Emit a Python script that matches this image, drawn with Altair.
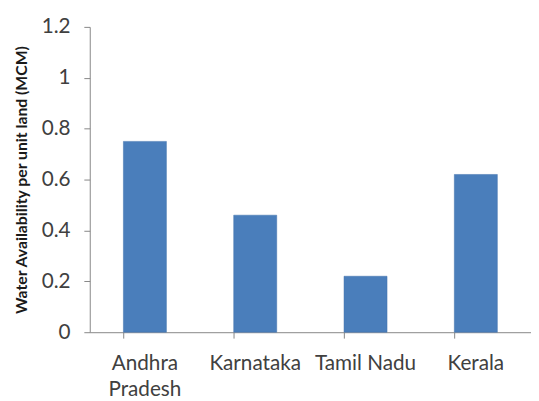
import altair as alt
import pandas as pd

states = ["Andhra Pradesh", "Karnataka", "Tamil Nadu", "Kerala"]
values = [0.75, 0.46, 0.22, 0.62]
y_ticks = [0, 0.2, 0.4, 0.6, 0.8, 1.0, 1.2]

df = pd.DataFrame({"state": states, "value": values})

chart = alt.Chart(df).mark_bar(color="#4A7EBB", stroke="#3F70AC", strokeWidth=0.5).encode(
    x=alt.X("state:N", sort=states, title=None,
            scale=alt.Scale(paddingInner=0.61, paddingOuter=0.305),
            axis=alt.Axis(labelAngle=0, bandPosition=0, ticks=True, tickSize=6,
                          tickColor="#868686", domainColor="#868686",
                          labelFont="Lato", labelFontSize=21, labelColor="#404040",
                          labelPadding=15, labelLineHeight=26,
                          labelExpr="datum.label == 'Andhra Pradesh' ? ['Andhra', 'Pradesh'] : datum.label")),
    y=alt.Y("value:Q", title="Water Availability per unit land (MCM)",
            scale=alt.Scale(domain=[0, 1.2]),
            axis=alt.Axis(values=y_ticks, grid=False, tickSize=6, tickColor="#868686",
                          domainColor="#868686", labelFont="Lato", labelFontSize=21,
                          labelColor="#404040", labelPadding=14,
                          labelExpr="datum.value == 0 ? '0' : datum.value == 1 ? '1' : format(datum.value, '.1f')",
                          titleFont="Lato", titleFontSize=16, titleFontWeight="bold",
                          titleColor="#1a1a1a", titlePadding=12)),
).properties(
    width=448, height=310,
    autosize=alt.AutoSizeParams(type="none"),
    padding={"left": 83, "top": 16, "right": 0, "bottom": 90},
).configure_view(stroke=None)

chart.save("out.html", embed_options={"renderer": "svg", "actions": False})
